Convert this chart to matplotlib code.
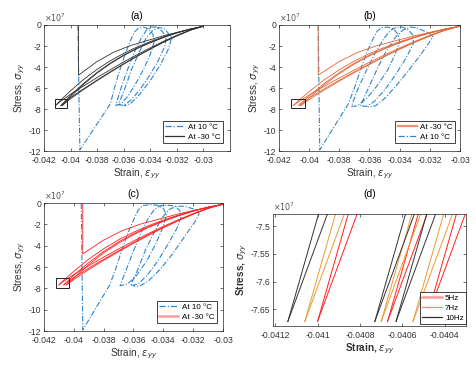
import matplotlib
matplotlib.use('Agg')
import matplotlib.pyplot as plt
from matplotlib.lines import Line2D
from matplotlib.patches import Rectangle
from matplotlib.ticker import FuncFormatter

plt.rcParams['font.family'] = ['Liberation Sans', 'DejaVu Sans']

# ---- -30 C data (stress in 1e7 units) ----
grid_strain = [-0.0400, -0.0390, -0.0380, -0.0370, -0.0360, -0.0350,
               -0.0340, -0.0330, -0.0320, -0.0310, -0.0300]
tip_stress = -7.672
near_up_stress = -7.27
near_low_stress = -7.36

load_strain = [-0.03940, -0.03940, -0.03802, -0.03677, -0.03551, -0.03425,
               -0.03300, -0.03174, -0.03000]
load_stress = [-0.10, -4.78, -3.49, -2.60, -1.97, -1.49, -1.02, -0.63, -0.12]

tips_10hz = [-0.04114, -0.04073, -0.04063]
near_10hz = [-0.04084, -0.04043, -0.04033]
up_10hz = [[-6.26, -5.17, -4.22, -3.40, -2.70, -2.10, -1.58, -1.12, -0.72, -0.38, -0.12],
           [-6.70, -5.54, -4.51, -3.62, -2.86, -2.21, -1.66, -1.17, -0.75, -0.39, -0.12],
           [-6.83, -5.63, -4.58, -3.68, -2.91, -2.25, -1.69, -1.19, -0.76, -0.40, -0.12]]
low_10hz = [[-6.59, -5.79, -5.00, -4.25, -3.52, -2.83, -2.17, -1.55, -0.98, -0.48, -0.10],
            [-6.92, -6.06, -5.24, -4.45, -3.69, -2.96, -2.27, -1.62, -1.03, -0.50, -0.10],
            [-7.02, -6.13, -5.30, -4.50, -3.73, -2.99, -2.30, -1.64, -1.04, -0.51, -0.10]]

tips_7hz = [-0.04106, -0.04070, -0.04055]
near_7hz = [-0.04076, -0.04040, -0.04025]
up_7hz = [[-6.34, -5.22, -4.26, -3.43, -2.72, -2.12, -1.59, -1.13, -0.72, -0.38, -0.12],
          [-6.73, -5.56, -4.53, -3.63, -2.87, -2.22, -1.66, -1.17, -0.75, -0.39, -0.12],
          [-6.93, -5.70, -4.63, -3.72, -2.94, -2.27, -1.70, -1.20, -0.77, -0.40, -0.12]]
low_7hz = [[-6.66, -5.84, -5.04, -4.28, -3.54, -2.85, -2.18, -1.56, -0.98, -0.48, -0.10],
           [-6.95, -6.08, -5.25, -4.46, -3.70, -2.97, -2.27, -1.62, -1.03, -0.50, -0.10],
           [-7.10, -6.19, -5.34, -4.53, -3.76, -3.01, -2.31, -1.65, -1.05, -0.51, -0.10]]

tips_5hz = [-0.04100, -0.04067, -0.04049]
near_5hz = [-0.04070, -0.04037, -0.04019]
up_5hz = [[-6.40, -5.26, -4.29, -3.45, -2.74, -2.13, -1.60, -1.14, -0.73, -0.38, -0.12],
          [-6.77, -5.58, -4.55, -3.65, -2.88, -2.23, -1.67, -1.18, -0.75, -0.39, -0.12],
          [-7.03, -5.77, -4.68, -3.76, -2.97, -2.29, -1.72, -1.21, -0.77, -0.40, -0.12]]
low_5hz = [[-6.71, -5.88, -5.07, -4.30, -3.56, -2.86, -2.19, -1.57, -0.99, -0.48, -0.10],
           [-6.98, -6.10, -5.27, -4.47, -3.71, -2.97, -2.28, -1.63, -1.03, -0.50, -0.10],
           [-7.16, -6.24, -5.38, -4.56, -3.78, -3.03, -2.32, -1.66, -1.05, -0.51, -0.10]]

# ---- 10 C data ----
warm_a_strain = [-0.03945, -0.03930, -0.03700,
                 -0.0367, -0.0363, -0.0359, -0.0355, -0.0352, -0.0349, -0.0345,
                 -0.0341, -0.0338, -0.0337, -0.0340, -0.0345, -0.0351, -0.0357, -0.0362, -0.0366,
                 -0.0362, -0.0357, -0.0352, -0.0347, -0.0343, -0.0339, -0.0335,
                 -0.0331, -0.0328, -0.0329, -0.0334, -0.0341, -0.0348, -0.0355, -0.0360, -0.0364,
                 -0.0359, -0.0354, -0.0348, -0.0343, -0.0338, -0.0334, -0.0330,
                 -0.0327, -0.0324, -0.0326, -0.0332, -0.0340, -0.0348, -0.0355, -0.0360]
warm_a_stress = [-0.05, -11.9, -7.5,
                 -6.0, -4.3, -2.8, -1.5, -0.7, -0.3, -0.2,
                 -0.4, -0.9, -1.6, -2.8, -4.2, -5.6, -6.8, -7.5, -7.65,
                 -6.0, -4.2, -2.6, -1.3, -0.5, -0.2, -0.2,
                 -0.6, -1.2, -2.0, -3.4, -4.9, -6.2, -7.2, -7.65, -7.6,
                 -6.0, -4.2, -2.5, -1.2, -0.5, -0.25, -0.3,
                 -0.7, -1.2, -2.2, -3.7, -5.3, -6.6, -7.5, -7.7]

warm_b_strain = [-0.03940, -0.03930, -0.03740,
                 -0.0370, -0.0366, -0.0362, -0.0358, -0.0355, -0.0352, -0.0348,
                 -0.0344, -0.0341, -0.0340, -0.0343, -0.0348, -0.0355, -0.0362, -0.0368, -0.0372,
                 -0.0368, -0.0362, -0.0356, -0.0350, -0.0346, -0.0342, -0.0338,
                 -0.0334, -0.0331, -0.0331, -0.0336, -0.0343, -0.0350, -0.0357, -0.0362, -0.0366,
                 -0.0361, -0.0355, -0.0349, -0.0343, -0.0338, -0.0333, -0.0329,
                 -0.0325, -0.0320, -0.0318, -0.0321, -0.0327, -0.0335, -0.0343, -0.0350, -0.0356, -0.0361]
warm_b_stress = [-0.05, -11.9, -7.5,
                 -6.0, -4.3, -2.7, -1.4, -0.6, -0.25, -0.2,
                 -0.4, -0.9, -1.6, -2.8, -4.3, -5.8, -7.0, -7.7, -7.75,
                 -6.2, -4.3, -2.6, -1.2, -0.5, -0.2, -0.2,
                 -0.5, -1.0, -1.8, -3.2, -4.8, -6.2, -7.3, -7.75, -7.7,
                 -6.1, -4.2, -2.5, -1.2, -0.5, -0.2, -0.25,
                 -0.5, -0.8, -1.1, -1.8, -3.0, -4.5, -5.9, -7.0, -7.7, -7.8]

warm_c_strain = [-0.03950, -0.03940, -0.03760,
                 -0.0372, -0.0368, -0.0364, -0.0360, -0.0357, -0.0354, -0.0349, -0.0344,
                 -0.0340, -0.0338, -0.0340, -0.0345, -0.0351, -0.0358, -0.0364, -0.0369,
                 -0.0365, -0.0360, -0.0355, -0.0350, -0.0346, -0.0342, -0.0337, -0.0332,
                 -0.0329, -0.0328, -0.0331, -0.0337, -0.0344, -0.0351, -0.0357, -0.0362,
                 -0.0357, -0.0352, -0.0346, -0.0341, -0.0336, -0.0331, -0.0326, -0.0321,
                 -0.0317, -0.0316, -0.0319, -0.0326, -0.0334, -0.0342, -0.0350, -0.0356, -0.0360]
warm_c_stress = [-0.05, -11.9, -7.7,
                 -6.2, -4.5, -2.9, -1.6, -0.7, -0.25, -0.15, -0.2,
                 -0.5, -1.1, -2.2, -3.8, -5.4, -6.8, -7.6, -7.75,
                 -6.3, -4.5, -2.8, -1.4, -0.6, -0.25, -0.2, -0.3,
                 -0.7, -1.3, -2.4, -3.9, -5.5, -6.8, -7.6, -7.75,
                 -6.2, -4.4, -2.7, -1.4, -0.6, -0.3, -0.3, -0.5,
                 -0.7, -1.0, -1.8, -3.2, -4.8, -6.2, -7.3, -7.8, -7.8]

strain_ticks = [-0.042, -0.04, -0.038, -0.036, -0.034, -0.032, -0.03]
stress_ticks = [0, -2, -4, -6, -8, -10, -12]
zoom_strain_ticks = [-0.0412, -0.041, -0.0408, -0.0406, -0.0404]
zoom_stress_ticks = [-7.5, -7.55, -7.6, -7.65]

BLUE = '#2f86cc'
DASHDOT = (0, (5, 1.6, 1, 1.6))
TXT = '#333333'


def drawCold(ax, tips, near, up, low, color, lw, loading=True):
    if loading:
        ax.plot(load_strain, load_stress, color=color, lw=lw)
    for i in range(len(tips)):
        ax.plot([tips[i], near[i]] + grid_strain, [tip_stress, near_low_stress] + low[i],
                color=color, lw=lw)
        ax.plot([tips[i], near[i]] + grid_strain, [tip_stress, near_up_stress] + up[i],
                color=color, lw=lw)


def styleAxes(ax, title, bold=False):
    for s in ax.spines.values():
        s.set_linewidth(0.5)
        s.set_color('#262626')
    ax.tick_params(direction='in', length=2.5, width=0.5, labelsize=6.2, colors=TXT,
                   top=True, right=True)
    ax.tick_params(axis='x', pad=3.5)
    ax.tick_params(axis='y', pad=2)
    ax.xaxis.set_major_formatter(FuncFormatter(lambda v, p: '%g' % v))
    ax.yaxis.set_major_formatter(FuncFormatter(lambda v, p: '%g' % v))
    w = 'bold' if bold else 'normal'
    ax.set_xlabel(r'Strain, $\epsilon_{yy}$', fontsize=7.2, color=TXT, labelpad=1.5, fontweight=w)
    ax.set_ylabel(r'Stress, $\sigma_{yy}$', fontsize=7.2, color=TXT, labelpad=1.5, fontweight=w)
    ax.set_title(title, fontsize=7.5, pad=4)
    ax.text(0.0, 1.005, r'$\times10^7$', transform=ax.transAxes, fontsize=5.8,
            color='#555555', va='bottom', ha='left')


def mainAxes(ax, xmax, title):
    ax.set_xlim(-0.042, xmax)
    ax.set_ylim(-12, 0)
    ax.set_xticks(strain_ticks)
    ax.set_yticks(stress_ticks)
    styleAxes(ax, title)
    ax.add_patch(Rectangle((-0.0412, -7.95), 0.0009, 0.9, fill=False, lw=0.7,
                           ec='#222222', zorder=30))


def addLegend(ax, handles, labels, anchor):
    leg = ax.legend(handles, labels, loc='lower right', bbox_to_anchor=anchor,
                    borderaxespad=0, fontsize=5.8, fancybox=False, framealpha=1,
                    edgecolor='#222222', handlelength=2.4, handletextpad=0.4,
                    borderpad=0.3, labelspacing=0.3)
    leg.get_frame().set_linewidth(0.6)


fig = plt.figure(figsize=(4.76, 3.66), dpi=100)

# (a)
ax = fig.add_axes([0.0924, 0.5874, 0.3908, 0.3443])
ax.plot(warm_a_strain, warm_a_stress, color=BLUE, lw=0.8, ls=DASHDOT)
drawCold(ax, tips_10hz, near_10hz, up_10hz, low_10hz, '#333333', 0.6)
mainAxes(ax, -0.028, '(a)')
addLegend(ax, [Line2D([], [], color=BLUE, lw=0.9, ls=DASHDOT),
               Line2D([], [], color='#333333', lw=0.9)],
          ['At 10 \u00b0C', 'At -30 \u00b0C'], (0.96, 0.06))

# (b)
ax = fig.add_axes([0.5861, 0.5874, 0.3803, 0.3443])
ax.plot(warm_b_strain, warm_b_stress, color=BLUE, lw=0.8, ls=DASHDOT)
drawCold(ax, tips_7hz, near_7hz, up_7hz, low_7hz, '#e2683a', 0.6)
mainAxes(ax, -0.03, '(b)')
addLegend(ax, [Line2D([], [], color='#ee9070', lw=1.6),
               Line2D([], [], color=BLUE, lw=0.9, ls=DASHDOT)],
          ['At -30 \u00b0C', 'At 10 \u00b0C'], (0.975, 0.06))

# (c)
ax = fig.add_axes([0.0924, 0.0956, 0.3761, 0.3497])
ax.plot(warm_c_strain, warm_c_stress, color=BLUE, lw=0.8, ls=DASHDOT)
drawCold(ax, tips_5hz, near_5hz, up_5hz, low_5hz, '#ff2020', 0.6)
mainAxes(ax, -0.03, '(c)')
addLegend(ax, [Line2D([], [], color=BLUE, lw=0.9, ls=DASHDOT),
               Line2D([], [], color='#ff9a9a', lw=1.8)],
          ['At 10 \u00b0C', 'At -30 \u00b0C'], (0.965, 0.06))

# (d)
ax = fig.add_axes([0.5735, 0.1093, 0.4055, 0.3060])
drawCold(ax, tips_5hz, near_5hz, up_5hz, low_5hz, '#ff2020', 0.7, loading=False)
drawCold(ax, tips_7hz, near_7hz, up_7hz, low_7hz, '#eb9a34', 0.7, loading=False)
drawCold(ax, tips_10hz, near_10hz, up_10hz, low_10hz, '#333333', 0.7, loading=False)
ax.set_xlim(-0.04121, -0.0403)
ax.set_ylim(-7.68, -7.478)
ax.set_xticks(zoom_strain_ticks)
ax.set_yticks(zoom_stress_ticks)
styleAxes(ax, '(d)', bold=True)
ax.set_title('(d)', fontsize=7.5, pad=12)
addLegend(ax, [Line2D([], [], color='#ff9a9a', lw=1.8),
               Line2D([], [], color='#eb9a34', lw=0.9),
               Line2D([], [], color='#333333', lw=0.9)],
          ['5Hz', '7Hz', '10Hz'], (1.0, 0.015))

fig.savefig('out.png', dpi=100)
